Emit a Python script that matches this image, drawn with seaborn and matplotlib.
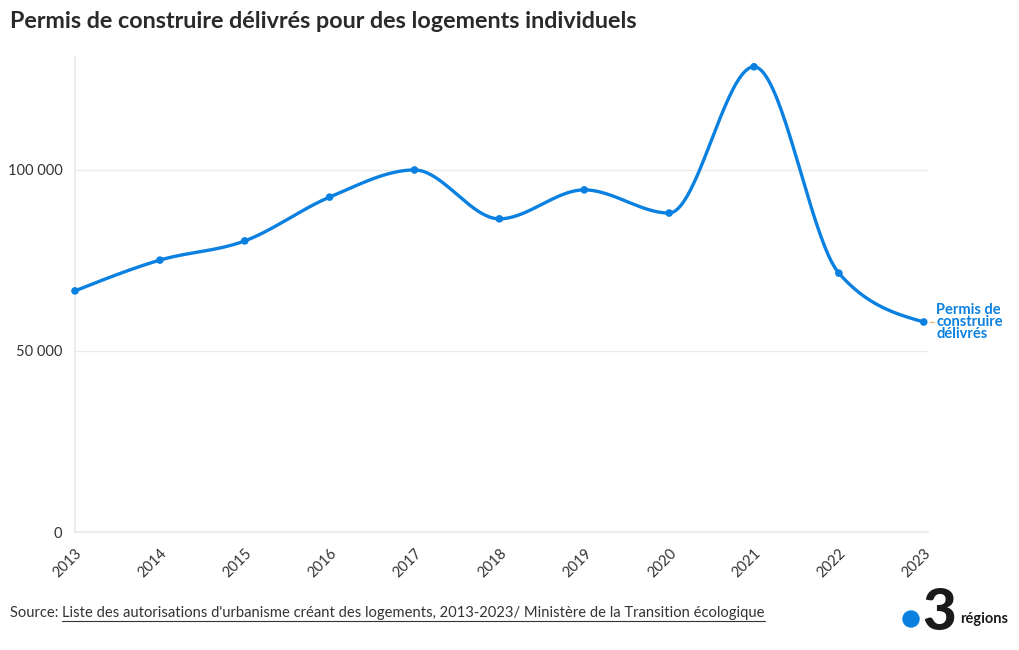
import numpy as np
import pandas as pd
import matplotlib
matplotlib.use("Agg")
import matplotlib.pyplot as plt
import seaborn as sns
from matplotlib.ticker import FuncFormatter
from matplotlib.lines import Line2D
from matplotlib.patches import Ellipse

years = [2013, 2014, 2015, 2016, 2017, 2018, 2019, 2020, 2021, 2022, 2023]
permis = [66600, 75100, 80400, 92500, 100000, 86500, 94500, 88100, 128500, 71500, 58000]
series_label = "Permis de\nconstruire\ndélivrés"
title = "Permis de construire délivrés pour des logements individuels"
source_prefix = "Source: "
source_link = "Liste des autorisations d'urbanisme créant des logements, 2013-2023/ Ministère de la Transition écologique"
yticks = [0, 50000, 100000]

BLUE = "#0a80e0"
TXT = "#333333"
GRID = "#ebebeb"

sns.set_theme(style="white")
plt.rcParams['font.family'] = ['Lato', 'DejaVu Sans']


def monotone_x(x, y, n=40):
    x = np.asarray(x, float); y = np.asarray(y, float)
    m = len(x)
    h = np.diff(x); s = np.diff(y) / h
    t = np.zeros(m)
    for i in range(1, m - 1):
        h0, h1, s0, s1 = h[i - 1], h[i], s[i - 1], s[i]
        p = (s0 * h1 + s1 * h0) / (h0 + h1)
        t[i] = (np.sign(s0) + np.sign(s1)) * min(abs(s0), abs(s1), 0.5 * abs(p))
    t[0] = (3 * s[0] - t[1]) / 2
    t[-1] = (3 * s[-1] - t[-2]) / 2
    xs, ys = [], []
    for i in range(m - 1):
        u = np.linspace(0, 1, n, endpoint=(i == m - 2))
        dx = h[i]
        p0 = (x[i], y[i]); p3 = (x[i + 1], y[i + 1])
        p1 = (x[i] + dx / 3, y[i] + t[i] * dx / 3)
        p2 = (x[i + 1] - dx / 3, y[i + 1] - t[i + 1] * dx / 3)
        b0 = (1 - u) ** 3; b1 = 3 * (1 - u) ** 2 * u; b2 = 3 * (1 - u) * u ** 2; b3 = u ** 3
        xs.append(b0 * p0[0] + b1 * p1[0] + b2 * p2[0] + b3 * p3[0])
        ys.append(b0 * p0[1] + b1 * p1[1] + b2 * p2[1] + b3 * p3[1])
    return np.concatenate(xs), np.concatenate(ys)


df = pd.DataFrame({"annee": years, "permis": permis})
sx, sy = monotone_x(years, permis)
smooth = pd.DataFrame({"annee": sx, "permis": sy})

fig = plt.figure(figsize=(10.2, 6.5), dpi=100)
ax = fig.add_axes([75 / 1020, 1 - 532 / 650, (928 - 75) / 1020, (532 - 57) / 650])

sns.lineplot(data=smooth, x="annee", y="permis", ax=ax, color=BLUE, linewidth=2.4,
             sort=False, estimator=None, zorder=3)
sns.scatterplot(data=df, x="annee", y="permis", ax=ax, color=BLUE, s=30,
                edgecolor="none", zorder=4, clip_on=False)

ax.set_xlim(2013, 2023.05)
ax.set_ylim(0, 131200)
ax.set_xlabel(""); ax.set_ylabel("")
ax.set_xticks(years)
ax.set_xticklabels([str(y) for y in years], rotation=45, ha="right", va="top",
                   rotation_mode="anchor", fontsize=10.5, color=TXT)
ax.set_yticks(yticks)
ax.yaxis.set_major_formatter(FuncFormatter(lambda v, p: f"{int(v):,}".replace(",", " ")))
ax.tick_params(axis="y", labelsize=10.5, labelcolor=TXT, length=5, color=GRID, pad=4)
ax.tick_params(axis="x", length=6, color=GRID, pad=4)
ax.grid(axis="y", color=GRID, linewidth=1)
for side in ["top", "right"]:
    ax.spines[side].set_visible(False)
ax.spines["left"].set_color(GRID)
ax.spines["bottom"].set_color(GRID)

# end label
ax.annotate(series_label, xy=(years[-1], permis[-1]), xytext=(9, 0),
            textcoords="offset points", ha="left", va="center", fontsize=10.5,
            fontweight="bold", color=BLUE, linespacing=0.85, annotation_clip=False)
ax.add_line(Line2D([years[-1] + 0.07, years[-1] + 0.12], [permis[-1], permis[-1]],
                   color="#f0c060", linewidth=1, clip_on=False))

# title
fig.text(10 / 1020, 1 - 21 / 650, title, fontsize=16.8, fontweight="bold",
         color="#2a2a2a", ha="left", va="center")

# source
fig.canvas.draw()
r = fig.canvas.get_renderer()
t1 = fig.text(10 / 1020, 1 - 613 / 650, source_prefix, fontsize=10.6, color=TXT,
              ha="left", va="center")
bb = t1.get_window_extent(r)
t2 = fig.text(bb.x1 / 1020, 1 - 613 / 650, source_link, fontsize=10.6, color=TXT,
              ha="left", va="center")
bb2 = t2.get_window_extent(r)
fig.add_artist(Line2D([bb2.x0 / 1020, bb2.x1 / 1020], [(bb2.y0 - 1) / 650, (bb2.y0 - 1) / 650],
                      color=TXT, linewidth=0.8, transform=fig.transFigure))

# logo
fig.add_artist(Ellipse((911 / 1020, 1 - 619 / 650), 16 / 1020, 16 / 650,
                       transform=fig.transFigure, color=BLUE, zorder=5))
fig.text(939 / 1020, 1 - 613 / 650, "3", fontsize=42, fontweight="black",
         color="#1a1a1a", ha="center", va="center")
fig.text(960 / 1020, 1 - 619 / 650, "régions", fontsize=10.5, fontweight="bold",
         color="#1a1a1a", ha="left", va="center")

fig.savefig("out.png", dpi=100)
